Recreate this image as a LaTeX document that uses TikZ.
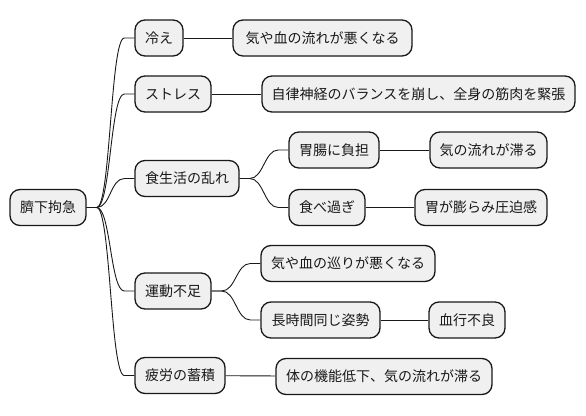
\documentclass[tikz,border=0pt]{standalone}
\usepackage{fontspec}
\setmainfont{Noto Sans CJK JP}
\usetikzlibrary{calc}
\begin{document}
\begin{tikzpicture}[x=1pt,y=-1pt,
  box/.style={draw=black!90,fill=black!6,line width=1.3pt,rounded corners=10pt,
    minimum height=36pt,inner sep=0pt,font=\fontsize{14pt}{16pt}\selectfont,text=black!90},
  link/.style={line width=0.9pt,draw=black!90}]
\useasboundingbox (0,0) rectangle (586,415);
\node[box,minimum width=76pt] (r) at (48,207.5) {臍下拘急};
\node[box,minimum width=48pt] (a) at (159,38) {冷え};
\node[box,minimum width=179pt] (a1) at (322.5,38) {気や血の流れが悪くなる};
\node[box,minimum width=76pt] (b) at (173,94) {ストレス};
\node[box,minimum width=313pt] (b1) at (418.5,94) {自律神経のバランスを崩し、全身の筋肉を緊張};
\node[box,minimum width=104pt] (c) at (187,178.5) {食生活の乱れ};
\node[box,minimum width=90pt] (c1) at (334,150) {胃腸に負担};
\node[box,minimum width=117pt] (c11) at (488.5,150) {気の流れが滞る};
\node[box,minimum width=76pt] (c2) at (327,207.5) {食べ過ぎ};
\node[box,minimum width=132pt] (c21) at (481,207.5) {胃が膨らみ圧迫感};
\node[box,minimum width=76pt] (d) at (173,291) {運動不足};
\node[box,minimum width=174pt] (d1) at (348,263.5) {気や血の巡りが悪くなる};
\node[box,minimum width=119pt] (d2) at (320.5,320) {長時間同じ姿勢};
\node[box,minimum width=76pt] (d21) at (467,320) {血行不良};
\node[box,minimum width=90pt] (e) at (180,375.5) {疲労の蓄積};
\node[box,minimum width=216pt] (e1) at (384,376.5) {体の機能低下、気の流れが滞る};
\foreach \p/\c in {r/a,r/b,r/c,r/d,r/e,c/c1,c/c2,d/d1,d/d2}{
  \draw[link] (\p.east) -- ++(10,0) .. controls +(14,0) and +(-14,0) .. ([xshift=-10pt]\c.west) -- (\c.west);
}
\draw[link] (a) -- (a1);
\draw[link] (b) -- (b1);
\draw[link] (c1) -- (c11);
\draw[link] (c2) -- (c21);
\draw[link] (d2) -- (d21);
\draw[link] (e) -- (e1);
\end{tikzpicture}
\end{document}
